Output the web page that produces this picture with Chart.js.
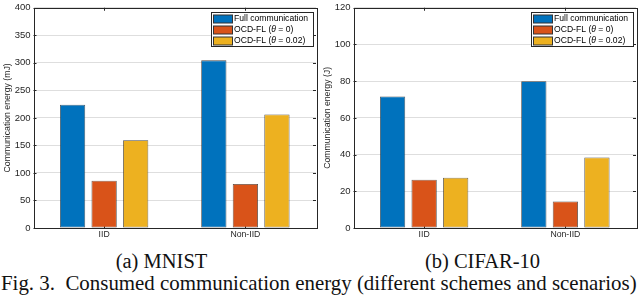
<!DOCTYPE html>
<html>
<head>
<meta charset="utf-8">
<script src="https://cdn.jsdelivr.net/npm/chart.js@4.4.1/dist/chart.umd.min.js"></script>
<style>
  html, body { margin: 0; padding: 0; background: #fff; width: 640px; height: 303px; overflow: hidden; }
  .charts { position: absolute; left: 0; top: 0; width: 640px; height: 245px; }
  .charts canvas { position: absolute; top: 0; display: block; }
  #mnistChart { left: 0; }
  #cifarChart { left: 320px; }
  .cap { position: absolute; font-family: 'Liberation Serif', 'Times New Roman', serif; color: #111; white-space: nowrap; line-height: 20px; }
  .sub { top: 251px; font-size: 20.5px; transform: translateX(-50%); }
  #capA { left: 161.5px; }
  #capB { left: 482.5px; }
  #figCap { left: 1px; top: 273px; font-size: 20.9px; }
</style>
</head>
<body>
<div class="charts">
  <canvas id="mnistChart" width="320" height="245"></canvas>
  <canvas id="cifarChart" width="320" height="245"></canvas>
</div>
<div class="cap sub" id="capA">(a) MNIST</div>
<div class="cap sub" id="capB">(b) CIFAR-10</div>
<div class="cap" id="figCap">Fig. 3.&nbsp; Consumed communication energy (different schemes and scenarios)</div>

<script>
const categories = ['IID', 'Non-IID'];
const seriesNames = ['Full communication', 'OCD-FL (θ = 0)', 'OCD-FL (θ = 0.02)'];
const seriesColors = ['#0072BD', '#D95319', '#EDB120'];

// MNIST, energy in mJ
const mnistFull = [224, 304.5];
const mnistTheta0 = [86, 80];
const mnistTheta002 = [159.5, 206];
const mnistTicks = [0, 50, 100, 150, 200, 250, 300, 350, 400];

// CIFAR-10, energy in J
const cifarFull = [71.7, 80];
const cifarTheta0 = [26.3, 14.5];
const cifarTheta002 = [27.4, 38.4];
const cifarTicks = [0, 20, 40, 60, 80, 100, 120];

const axisColor = '#262626';
const sansFont = "'Liberation Sans', Arial, sans-serif";

// box, inward ticks and an inside legend, drawn the way the original figure looks
const matlabFrame = {
  id: 'matlabFrame',
  beforeDatasetsDraw(chart) {
    const { ctx, chartArea: a, scales } = chart;
    ctx.save();
    ctx.strokeStyle = axisColor;
    ctx.lineWidth = 1;
    ctx.beginPath();
    for (const t of scales.y.ticks) {
      const y = Math.round(scales.y.getPixelForValue(t.value)) + 0.5;
      ctx.moveTo(a.left, y); ctx.lineTo(a.left + 3, y);
      ctx.moveTo(a.right, y); ctx.lineTo(a.right - 3, y);
    }
    categories.forEach((c, i) => {
      const x = Math.round(scales.x.getPixelForValue(i)) + 0.5;
      ctx.moveTo(x, a.bottom); ctx.lineTo(x, a.bottom - 3);
      ctx.moveTo(x, a.top); ctx.lineTo(x, a.top + 3);
    });
    ctx.stroke();
    ctx.strokeRect(Math.round(a.left) + 0.5, Math.round(a.top) + 0.5,
      Math.round(a.right - a.left), Math.round(a.bottom - a.top));
    ctx.restore();
  },
  afterDatasetsDraw(chart) {
    const { ctx, chartArea: a } = chart;
    const boxW = 102, boxH = 34;
    const bx = Math.round(a.right - 3 - boxW) + 0.5;
    const by = Math.round(a.top + 4) + 0.5;
    ctx.save();
    ctx.fillStyle = '#fff';
    ctx.fillRect(bx, by, boxW, boxH);
    ctx.strokeStyle = axisColor;
    ctx.lineWidth = 1;
    ctx.strokeRect(bx, by, boxW, boxH);
    ctx.textBaseline = 'middle';
    chart.data.datasets.forEach((ds, i) => {
      const cy = by + 6.5 + i * 11;
      ctx.fillStyle = ds.backgroundColor;
      ctx.fillRect(bx + 2, cy - 4, 19, 8);
      ctx.strokeStyle = '#333';
      ctx.strokeRect(bx + 2, cy - 4, 19, 8);
      let x = bx + 22.5;
      ctx.fillStyle = '#000';
      // italic theta inside the label
      const parts = ds.label.split('θ');
      parts.forEach((p, k) => {
        ctx.font = '8.6px ' + sansFont;
        ctx.fillText(p, x, cy);
        x += ctx.measureText(p).width;
        if (k < parts.length - 1) {
          ctx.font = 'italic 8.6px ' + sansFont;
          ctx.fillText('θ', x, cy);
          x += ctx.measureText('θ').width;
        }
      });
    });
    ctx.restore();
  }
};

function makeChart(id, values, ticks, yTitle) {
  const datasets = values.map((v, i) => ({
    label: seriesNames[i],
    data: v,
    backgroundColor: seriesColors[i],
    borderColor: 'rgba(38,38,38,0.85)',
    borderWidth: 0.8,
    borderSkipped: false,
    barPercentage: 0.8,
    categoryPercentage: 0.67,
  }));
  const yMax = ticks[ticks.length - 1];
  return new Chart(document.getElementById(id), {
    type: 'bar',
    data: { labels: categories, datasets },
    plugins: [matlabFrame],
    options: {
      responsive: false,
      animation: false,
      devicePixelRatio: 1,
      layout: { padding: { left: 0, top: 0, right: 4, bottom: 0 } },
      plugins: { legend: { display: false }, tooltip: { enabled: false } },
      scales: {
        x: {
          grid: { display: false, drawTicks: false },
          border: { display: false },
          ticks: { color: axisColor, padding: 2, font: { family: sansFont, size: 8.7, lineHeight: 1 } },
          afterFit(s) { s.height = 17; },
        },
        y: {
          min: 0,
          max: yMax,
          afterBuildTicks(s) { s.ticks = ticks.map(v => ({ value: v })); },
          grid: { color: '#dedede', lineWidth: 1, drawTicks: false },
          border: { display: false },
          ticks: { color: axisColor, padding: 3, font: { family: sansFont, size: 9.5, lineHeight: 1 } },
          title: {
            display: true,
            text: yTitle,
            color: axisColor,
            padding: { top: 2, bottom: 0 },
            font: { family: sansFont, size: 8.7 },
          },
          afterFit(s) { s.width = 33.5; },
        },
      },
    },
  });
}

makeChart('mnistChart', [mnistFull, mnistTheta0, mnistTheta002], mnistTicks, 'Communication energy (mJ)');
makeChart('cifarChart', [cifarFull, cifarTheta0, cifarTheta002], cifarTicks, 'Communication energy (J)');
</script>
</body>
</html>
